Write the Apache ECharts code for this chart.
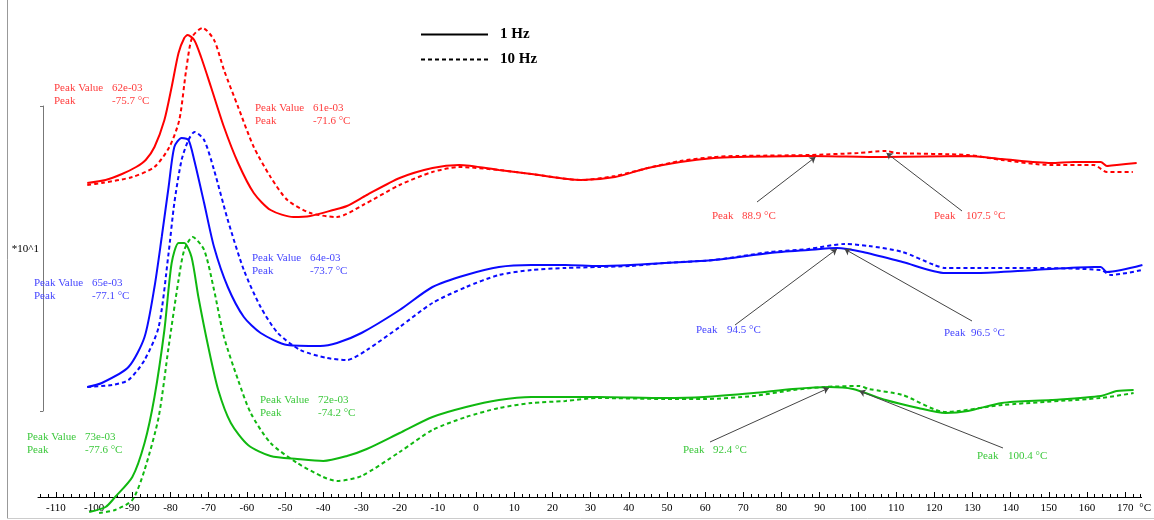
<!DOCTYPE html>
<html>
<head>
<meta charset="utf-8">
<script src="https://cdn.jsdelivr.net/npm/echarts@6/dist/echarts.min.js"></script>
<style>html,body{margin:0;padding:0;background:#fff;}#c{width:1154px;height:520px;}</style>
</head>
<body>
<div id="c"></div>
<script>
// Temperature ticks (°C)
const tickLabels = [-110,-100,-90,-80,-70,-60,-50,-40,-30,-20,-10,0,10,20,30,40,50,60,70,80,90,100,110,120,130,140,150,160,170];
const minorTicks = [];
for (let t = -114; t <= 174; t += 2) minorTicks.push(t);

// Curves: [temperature °C, offset signal (arbitrary units)]
const red1Hz = [[-101.8,314],[-97,317],[-92.7,323],[-89,330],[-86.5,337],[-84.2,350],[-81.6,377],[-79.7,410],[-77.9,444],[-76.4,459],[-75.5,462],[-73.8,457],[-72,440],[-69.4,410],[-66,370],[-62.3,334],[-58.2,304],[-53.8,287],[-47.8,280],[-43.4,281],[-37.4,287],[-33.8,291],[-28.6,302],[-20,319],[-11.4,329],[-4.4,332],[6,327],[14.5,323],[27.5,317],[36.4,320],[45,329],[53.5,335],[62.3,339],[68.3,340],[87.3,341],[106.5,340],[128.8,341],[137.7,338],[150.6,334],[156.6,335],[163.6,335],[165.2,331],[167.8,332],[173,334]];
const red10Hz = [[-101.8,312],[-98,314],[-90,320],[-84.2,330],[-80.3,350],[-77.7,377],[-75.9,427],[-74.3,460],[-71.6,469],[-68.6,457],[-66,427],[-62.3,390],[-58.2,350],[-53.8,320],[-49.4,297],[-43.4,284],[-36.4,280],[-29.6,292],[-20,312],[-11.4,325],[-4.4,330],[6,327],[14.5,323],[27.5,317],[36.4,321],[45,329],[53.5,336],[62.3,340],[68.3,341],[87.3,342],[100,344],[107.5,346],[110,344],[128.8,342],[137.7,337],[150.6,332],[161.8,332],[165.2,325],[172,325]];
const blue1Hz = [[-101.8,110],[-98,114],[-91,130],[-86.8,160],[-84.2,210],[-82.3,260],[-80.5,310],[-79,350],[-77.1,359],[-75.3,357],[-73.8,337],[-71.2,294],[-68.6,250],[-65,210],[-60.8,180],[-56.4,164],[-49.4,152],[-40.8,151],[-36.4,154],[-30,164],[-20,187],[-11.4,210],[-2.6,222],[6,230],[14.5,232],[23.4,232],[32,231],[40.5,232],[49.4,234],[62.3,237],[77,244],[87,247],[94.5,249],[101.3,245],[111.7,235],[122.9,224],[131.4,224],[146.2,227],[161.8,230],[163.6,230],[165.2,225],[174.5,232]];
const blue10Hz = [[-101.8,110],[-95.3,112],[-91,117],[-86.8,137],[-83.1,170],[-80.5,244],[-79,294],[-77.1,337],[-75.3,357],[-73.7,365],[-71.2,357],[-68.6,327],[-65,277],[-60.8,227],[-56.4,190],[-51.9,164],[-46,147],[-39,139],[-33.8,137],[-28.6,147],[-20,170],[-11.4,194],[-2.6,210],[6,222],[14.5,227],[23.4,229],[32,230],[40.5,231],[49.4,234],[62.3,237],[77,245],[87,248],[96.5,253],[102.9,251],[111.7,245],[120,232],[122.9,229],[131.4,229],[146.2,229],[163.6,227],[166.2,222],[174.5,227]];
const green1Hz = [[-101.3,-15],[-97,-10],[-94.5,0],[-90,20],[-86.8,54],[-84.2,100],[-81.6,167],[-79.7,234],[-77.9,254],[-76.4,254],[-74.5,240],[-72.7,200],[-70.1,150],[-67.5,107],[-64.2,74],[-59.7,52],[-53.8,41],[-46.8,38],[-40,36],[-33.8,41],[-28.6,48],[-20,64],[-11.4,80],[-2.6,90],[6,97],[14.5,100],[23.4,100],[32,100],[49.4,99],[59.7,100],[72.7,104],[83,108],[92.4,110],[98.7,108],[107.3,97],[115.8,89],[122.9,84],[128.8,86],[137.7,94],[150.6,97],[163.6,101],[167.8,106],[172.2,107]];
const green10Hz = [[-98.7,-16],[-94.5,-13],[-90,-3],[-86.8,27],[-83.1,80],[-80.5,150],[-77.9,217],[-76.4,247],[-74.2,260],[-71.2,247],[-68.6,207],[-66,160],[-62.3,117],[-59,84],[-53.8,54],[-46.8,34],[-40,20],[-36.4,16],[-30,21],[-20,45],[-11.4,67],[-2.6,80],[6,89],[14.5,94],[23.4,96],[32,99],[49.4,98],[59.7,98],[72.7,101],[83,107],[91.2,110],[100.4,111],[102.9,108],[111.7,102],[122.9,85],[137.7,92],[163.6,99],[172.2,104]];

// Annotated peak values
const lowPeaks = {
  red:   [['62e-03','-75.7 °C'],['61e-03','-71.6 °C']],
  blue:  [['65e-03','-77.1 °C'],['64e-03','-73.7 °C']],
  green: [['73e-03','-77.6 °C'],['72e-03','-74.2 °C']]
};
const highPeaks = {
  red:   [[88.9,340],[107.5,344]],
  blue:  [[94.5,248],[96.5,248]],
  green: [[92.4,109],[100.4,106]]
};

const FONT = 'Liberation Serif';
const FS = 11;
const RED = '#ff0000', BLUE = '#0a0aff', GREEN = '#10b810';
const RED_T = '#ff3c3c', BLUE_T = '#4646ff', GREEN_T = '#3cc83c';

function blockLabel(color, val, temp, px, py) {
  return {
    x: px, y: py, value: 0,
    label: {
      show: true, position: [0, 0], align: 'left', verticalAlign: 'top',
      color: color, fontFamily: FONT, fontSize: FS, lineHeight: 13,
      formatter: '{a|Peak Value}{b|' + val + '}\n{a|Peak}{b|' + temp + '}',
      rich: { a: { width: 58, color: color, fontFamily: FONT, fontSize: FS, lineHeight: 13 },
              b: { color: color, fontFamily: FONT, fontSize: FS, lineHeight: 13 } }
    }
  };
}
function peakLabel(color, temp, px, py, w) {
  return {
    x: px, y: py, value: 0,
    label: {
      show: true, position: [0, 0], align: 'left', verticalAlign: 'top',
      color: color, fontFamily: FONT, fontSize: FS,
      formatter: '{a|Peak}{b|' + temp.toFixed(1) + ' °C}',
      rich: { a: { width: w, color: color, fontFamily: FONT, fontSize: FS },
              b: { color: color, fontFamily: FONT, fontSize: FS } }
    }
  };
}
function arrow(px, py, pt) {
  return [{ x: px, y: py }, { coord: pt }];
}
const arrowStyle = { color: '#444', width: 1, type: 'solid' };

function curve(name, data, color, dashed, extra) {
  return Object.assign({
    name: name, type: 'line', data: data, xAxisIndex: 0, yAxisIndex: 0,
    symbol: 'none', smooth: 0.25, clip: false, silent: true,
    lineStyle: { color: color, width: 2, type: dashed ? [4, 3] : 'solid' },
    itemStyle: { color: color }
  }, extra || {});
}
function marks(blocks, peaks) {
  return {
    markPoint: {
      symbol: 'circle', symbolSize: 0, silent: true,
      data: blocks
    },
    markLine: {
      silent: true, symbol: ['none', 'arrow'], symbolSize: 6,
      lineStyle: arrowStyle, label: { show: false },
      data: peaks
    }
  };
}

const chart = echarts.init(document.getElementById('c'), null, { renderer: 'canvas' });
chart.setOption({
  animation: false,
  backgroundColor: '#fff',
  textStyle: { fontFamily: FONT },
  legend: {
    data: ['1 Hz', '10 Hz'], orient: 'vertical', left: 415, top: 22,
    itemWidth: 67, itemHeight: 14, itemGap: 10,
    itemStyle: { opacity: 0, borderWidth: 0 },
    textStyle: { fontFamily: FONT, fontSize: 15, fontWeight: 'bold', color: '#000', padding: [0, 0, 0, 7] }
  },
  grid: [
    { left: 38, right: 6, top: 0, bottom: 23 },
    { left: 43, top: 106, height: 305, width: 20 }
  ],
  xAxis: [
    { type: 'value', gridIndex: 0, min: -114.7, max: 174.3, position: 'bottom',
      axisLine: { show: true, onZero: false, lineStyle: { color: '#000', width: 1 } },
      axisTick: { show: true, inside: true, length: 5, customValues: tickLabels, lineStyle: { color: '#000' } },
      axisLabel: { show: true, customValues: tickLabels, margin: 6, color: '#000', fontFamily: FONT, fontSize: FS },
      splitLine: { show: false },
      name: '°C', nameLocation: 'end', nameGap: -9,
      nameTextStyle: { fontFamily: FONT, fontSize: FS, color: '#000', align: 'left', verticalAlign: 'top', padding: [6, 0, 0, 0] }
    },
    { type: 'value', gridIndex: 0, min: -114.7, max: 174.3, position: 'bottom',
      axisLine: { show: false, onZero: false },
      axisTick: { show: true, inside: true, length: 3, customValues: minorTicks, lineStyle: { color: '#000' } },
      axisLabel: { show: false }, splitLine: { show: false }
    },
    { type: 'value', gridIndex: 1, min: 0, max: 1, show: false }
  ],
  yAxis: [
    { type: 'value', gridIndex: 0, min: 0, max: 497, show: false },
    { type: 'value', gridIndex: 1, min: 0, max: 1, position: 'left',
      axisLine: { show: true, lineStyle: { color: '#777', width: 1 } },
      axisTick: { show: true, inside: false, length: 3, customValues: [0, 1], lineStyle: { color: '#777' } },
      axisLabel: { show: false }, splitLine: { show: false },
      name: '*10^1', nameLocation: 'middle', nameRotate: 0, nameGap: 4,
      nameTextStyle: { fontFamily: FONT, fontSize: FS, color: '#000', verticalAlign: 'bottom', padding: [0, 0, 4, 0] }
    }
  ],
  graphic: [
    { type: 'line', silent: true, shape: { x1: 7.5, y1: 0, x2: 7.5, y2: 518.5 }, style: { stroke: '#999', lineWidth: 1 } },
    { type: 'line', silent: true, shape: { x1: 7.5, y1: 518.5, x2: 1154, y2: 518.5 }, style: { stroke: '#ccc', lineWidth: 1 } }
  ],
  series: [
    { name: '1 Hz', type: 'line', data: [], symbol: 'none', lineStyle: { color: '#000', width: 2 }, itemStyle: { color: '#000' } },
    { name: '10 Hz', type: 'line', data: [], symbol: 'none', lineStyle: { color: '#000', width: 2, type: [4, 3] }, itemStyle: { color: '#000' } },

    curve('red 1 Hz', red1Hz, RED, false, marks(
      [blockLabel(RED_T, lowPeaks.red[0][0], lowPeaks.red[0][1], 54, 82),
       blockLabel(RED_T, lowPeaks.red[1][0], lowPeaks.red[1][1], 255, 102),
       peakLabel(RED_T, highPeaks.red[0][0], 712, 211, 30),
       peakLabel(RED_T, highPeaks.red[1][0], 934, 211, 32)],
      [arrow(757, 202, highPeaks.red[0]), arrow(962, 211, highPeaks.red[1])])),
    curve('red 10 Hz', red10Hz, RED, true),

    curve('blue 1 Hz', blue1Hz, BLUE, false, marks(
      [blockLabel(BLUE_T, lowPeaks.blue[0][0], lowPeaks.blue[0][1], 34, 277),
       blockLabel(BLUE_T, lowPeaks.blue[1][0], lowPeaks.blue[1][1], 252, 252),
       peakLabel(BLUE_T, highPeaks.blue[0][0], 696, 325, 31),
       peakLabel(BLUE_T, highPeaks.blue[1][0], 944, 328, 27)],
      [arrow(735, 325, highPeaks.blue[0]), arrow(972, 321, highPeaks.blue[1])])),
    curve('blue 10 Hz', blue10Hz, BLUE, true),

    curve('green 1 Hz', green1Hz, GREEN, false, marks(
      [blockLabel(GREEN_T, lowPeaks.green[0][0], lowPeaks.green[0][1], 27, 431),
       blockLabel(GREEN_T, lowPeaks.green[1][0], lowPeaks.green[1][1], 260, 394),
       peakLabel(GREEN_T, highPeaks.green[0][0], 683, 445, 30),
       peakLabel(GREEN_T, highPeaks.green[1][0], 977, 451, 31)],
      [arrow(710, 442, highPeaks.green[0]), arrow(1003, 448, highPeaks.green[1])])),
    curve('green 10 Hz', green10Hz, GREEN, true)
  ]
});
</script>
</body>
</html>
